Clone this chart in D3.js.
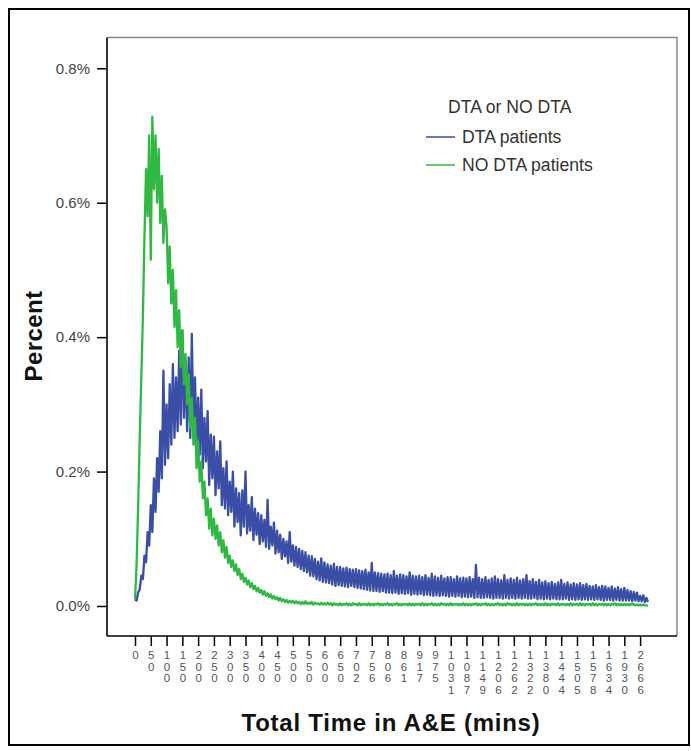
<!DOCTYPE html>
<meta charset="utf-8" />
<style>
  body { margin: 0; background: #fff; }
  text { font-family: "Liberation Sans", Arial, sans-serif; }
  .axis path.domain { display: none; }
  .axis line { stroke: #000; stroke-width: 1.5px; }
  .y-axis text { font-size: 15px; fill: #444; }
  .x-axis text { font-size: 11.5px; fill: #555; }
  .legend text { font-size: 17.6px; fill: #333; }
</style>
<svg width="691" height="751"></svg>
<script src="https://d3js.org/d3.v7.min.js"></script>
<script>
  var svg = d3.select("svg");

  // one sample every 5 categories of the x axis, ticks every 50 categories
  var step = 5;
  var tickEvery = 50;
  var lastCategory = 1625;

  var tickLabels = ["0", "50", "100", "150", "200", "250", "300", "350", "400", "450",
    "500", "550", "600", "650", "702", "756", "806", "861", "917", "975", "1031",
    "1087", "1149", "1206", "1262", "1322", "1380", "1444", "1505", "1578", "1634",
    "1930", "2666"];

  var yTicks = [0, 0.2, 0.4, 0.6, 0.8];

  var seriesNames = ["DTA patients", "NO DTA patients"];
  var seriesColors = ["#3b4ea6", "#2fb943"];

  // percent values, DTA patients
  var dta = [
    0.010, 0.008, 0.020, 0.025, 0.045, 0.040, 0.075, 0.065, 0.110, 0.090,
    0.150, 0.110, 0.190, 0.140, 0.220, 0.170, 0.260, 0.190, 0.350, 0.210,
    0.300, 0.220, 0.330, 0.240, 0.360, 0.250, 0.340, 0.260, 0.380, 0.270,
    0.410, 0.280, 0.360, 0.260, 0.370, 0.250, 0.405, 0.260, 0.340, 0.240,
    0.310, 0.225, 0.322, 0.205, 0.280, 0.215, 0.290, 0.180, 0.255, 0.190,
    0.252, 0.165, 0.230, 0.175, 0.245, 0.150, 0.205, 0.145, 0.215, 0.135,
    0.185, 0.140, 0.200, 0.118, 0.175, 0.125, 0.168, 0.105, 0.172, 0.118,
    0.200, 0.108, 0.150, 0.112, 0.162, 0.098, 0.145, 0.106, 0.138, 0.092,
    0.135, 0.096, 0.128, 0.088, 0.158, 0.085, 0.118, 0.090, 0.124, 0.078,
    0.112, 0.080, 0.106, 0.070, 0.100, 0.074, 0.096, 0.064, 0.110, 0.066,
    0.090, 0.060, 0.088, 0.058, 0.085, 0.055, 0.082, 0.052, 0.080, 0.050,
    0.075, 0.045, 0.074, 0.044, 0.070, 0.040, 0.066, 0.038, 0.071, 0.036,
    0.065, 0.035, 0.062, 0.034, 0.060, 0.032, 0.063, 0.030, 0.058, 0.031,
    0.058, 0.030, 0.056, 0.029, 0.057, 0.028, 0.055, 0.030, 0.054, 0.028,
    0.055, 0.027, 0.053, 0.026, 0.052, 0.025, 0.054, 0.024, 0.050, 0.023,
    0.064, 0.022, 0.050, 0.022, 0.049, 0.021, 0.048, 0.022, 0.047, 0.020,
    0.048, 0.020, 0.046, 0.019, 0.052, 0.020, 0.045, 0.018, 0.047, 0.019,
    0.046, 0.018, 0.044, 0.019, 0.050, 0.017, 0.045, 0.018, 0.044, 0.017,
    0.045, 0.018, 0.043, 0.016, 0.046, 0.017, 0.042, 0.016, 0.048, 0.015,
    0.044, 0.016, 0.042, 0.015, 0.045, 0.016, 0.041, 0.015, 0.043, 0.014,
    0.043, 0.015, 0.040, 0.014, 0.044, 0.015, 0.041, 0.013, 0.042, 0.014,
    0.041, 0.013, 0.043, 0.014, 0.040, 0.012, 0.061, 0.013, 0.042, 0.012,
    0.040, 0.012, 0.043, 0.013, 0.039, 0.012, 0.041, 0.011, 0.044, 0.012,
    0.040, 0.012, 0.038, 0.011, 0.046, 0.012, 0.039, 0.011, 0.041, 0.012,
    0.039, 0.011, 0.042, 0.012, 0.038, 0.011, 0.040, 0.012, 0.046, 0.011,
    0.037, 0.011, 0.040, 0.012, 0.036, 0.010, 0.039, 0.011, 0.035, 0.010,
    0.037, 0.011, 0.034, 0.010, 0.036, 0.011, 0.033, 0.010, 0.035, 0.010,
    0.039, 0.010, 0.033, 0.011, 0.035, 0.009, 0.032, 0.010, 0.034, 0.009,
    0.032, 0.010, 0.034, 0.009, 0.031, 0.010, 0.033, 0.009, 0.030, 0.010,
    0.029, 0.009, 0.031, 0.010, 0.028, 0.009, 0.030, 0.008, 0.029, 0.009,
    0.027, 0.009, 0.029, 0.008, 0.026, 0.009, 0.028, 0.008, 0.025, 0.008,
    0.027, 0.008, 0.024, 0.008, 0.022, 0.007, 0.021, 0.008, 0.020, 0.007,
    0.015, 0.007, 0.016, 0.006, 0.012, 0.006
  ];

  // percent values, NO DTA patients
  var noDta = [
    0.010, 0.060, 0.150, 0.250, 0.340, 0.430, 0.550, 0.650, 0.580, 0.700,
    0.515, 0.728, 0.620, 0.700, 0.600, 0.680, 0.570, 0.640, 0.540, 0.590,
    0.565, 0.480, 0.535, 0.450, 0.500, 0.415, 0.470, 0.385, 0.440, 0.355,
    0.410, 0.330, 0.375, 0.300, 0.345, 0.265, 0.310, 0.240, 0.280, 0.205,
    0.245, 0.185, 0.215, 0.160, 0.185, 0.135, 0.160, 0.115, 0.145, 0.105,
    0.130, 0.100, 0.120, 0.090, 0.110, 0.080, 0.098, 0.072, 0.088, 0.064,
    0.075, 0.058, 0.068, 0.052, 0.062, 0.046, 0.055, 0.040, 0.048, 0.036,
    0.042, 0.032, 0.038, 0.028, 0.034, 0.025, 0.030, 0.022, 0.027, 0.020,
    0.024, 0.017, 0.022, 0.015, 0.019, 0.013, 0.017, 0.011, 0.015, 0.010,
    0.013, 0.008, 0.012, 0.007, 0.010, 0.006, 0.009, 0.005, 0.008, 0.005,
    0.008, 0.004, 0.007, 0.004, 0.006, 0.003, 0.006, 0.003, 0.007, 0.003,
    0.005, 0.003, 0.006, 0.002, 0.005, 0.003, 0.004, 0.002, 0.005, 0.002,
    0.004, 0.002, 0.005, 0.002, 0.004, 0.001, 0.004, 0.002, 0.003, 0.001,
    0.004, 0.001, 0.003, 0.002, 0.004, 0.001, 0.003, 0.001, 0.004, 0.002,
    0.003, 0.001, 0.004, 0.001, 0.003, 0.002, 0.003, 0.001, 0.004, 0.001,
    0.003, 0.001, 0.003, 0.002, 0.004, 0.001, 0.003, 0.001, 0.003, 0.002,
    0.004, 0.001, 0.003, 0.001, 0.003, 0.002, 0.004, 0.001, 0.003, 0.001,
    0.003, 0.002, 0.003, 0.001, 0.004, 0.001, 0.003, 0.001, 0.003, 0.002,
    0.003, 0.001, 0.004, 0.001, 0.003, 0.001, 0.003, 0.002, 0.004, 0.001,
    0.003, 0.001, 0.003, 0.001, 0.004, 0.002, 0.003, 0.001, 0.003, 0.001,
    0.004, 0.001, 0.003, 0.002, 0.003, 0.001, 0.003, 0.001, 0.004, 0.001,
    0.003, 0.001, 0.003, 0.001, 0.003, 0.002, 0.004, 0.001, 0.003, 0.001,
    0.003, 0.002, 0.004, 0.001, 0.003, 0.001, 0.003, 0.001, 0.003, 0.002,
    0.004, 0.001, 0.003, 0.001, 0.003, 0.001, 0.004, 0.002, 0.003, 0.001,
    0.003, 0.001, 0.004, 0.001, 0.003, 0.002, 0.003, 0.001, 0.003, 0.001,
    0.003, 0.001, 0.003, 0.002, 0.004, 0.001, 0.003, 0.001, 0.003, 0.001,
    0.004, 0.001, 0.003, 0.001, 0.003, 0.002, 0.003, 0.001, 0.004, 0.001,
    0.003, 0.002, 0.003, 0.001, 0.003, 0.001, 0.004, 0.001, 0.003, 0.002,
    0.003, 0.001, 0.004, 0.001, 0.003, 0.001, 0.003, 0.002, 0.003, 0.001,
    0.004, 0.001, 0.003, 0.001, 0.003, 0.002, 0.003, 0.001, 0.003, 0.001,
    0.003, 0.001, 0.003, 0.002, 0.004, 0.001, 0.003, 0.001, 0.003, 0.001,
    0.003, 0.001, 0.003, 0.001, 0.003, 0.002, 0.003, 0.001, 0.002, 0.001,
    0.002, 0.001, 0.002, 0.001, 0.001, 0.000
  ];

  // plot box
  var box = { left: 107, right: 677, top: 37.5, bottom: 636 };

  var x = d3.scaleLinear()
    .domain([0, lastCategory])
    .range([box.left + 28, box.right - 29]);

  var y = d3.scaleLinear()
    .domain([0, 0.8])
    .range([606, 68.3]);

  // outer frame
  svg.append("rect")
    .attr("x", 9).attr("y", 9)
    .attr("width", 680).attr("height", 736)
    .attr("fill", "none")
    .attr("stroke", "#000")
    .attr("stroke-width", 2);

  // top and right edges of the plot box are grey
  svg.append("path")
    .attr("d", "M" + box.left + "," + box.top + "H" + box.right + "V" + box.bottom)
    .attr("fill", "none")
    .attr("stroke", "#8a8a8a")
    .attr("stroke-width", 1.5);

  // lines
  var line = d3.line()
    .x(function (d, i) { return x(i * step); })
    .y(function (d) { return y(d); });

  var series = [dta, noDta];
  svg.append("g")
    .selectAll("path")
    .data(series)
    .enter()
    .append("path")
    .attr("d", line)
    .attr("fill", "none")
    .attr("stroke", function (d, i) { return seriesColors[i]; })
    .attr("stroke-width", 2.3)
    .attr("stroke-linejoin", "round");

  // y axis
  svg.append("g")
    .attr("class", "axis y-axis")
    .attr("transform", "translate(" + box.left + ",0)")
    .call(d3.axisLeft(y)
      .tickValues(yTicks)
      .tickSize(10)
      .tickPadding(7)
      .tickFormat(function (d) { return d.toFixed(1) + "%"; }));

  svg.append("line")
    .attr("x1", box.left).attr("x2", box.left)
    .attr("y1", box.top).attr("y2", box.bottom)
    .attr("stroke", "#000").attr("stroke-width", 1.6);

  // x axis, labels written one digit per line
  var tickIdx = tickLabels.map(function (d, i) { return i * tickEvery; });
  var xAxis = svg.append("g")
    .attr("class", "axis x-axis")
    .attr("transform", "translate(0," + box.bottom + ")")
    .call(d3.axisBottom(x)
      .tickValues(tickIdx)
      .tickSize(10)
      .tickFormat(""));

  xAxis.selectAll(".tick").each(function (d, i) {
    var t = d3.select(this).select("text")
      .attr("y", 15)
      .attr("dy", null)
      .attr("text-anchor", "middle");
    tickLabels[i].split("").forEach(function (ch, j) {
      t.append("tspan")
        .attr("x", 0)
        .attr("dy", j === 0 ? "0.71em" : 11.6)
        .text(ch);
    });
  });

  svg.append("line")
    .attr("x1", box.left).attr("x2", box.right)
    .attr("y1", box.bottom).attr("y2", box.bottom)
    .attr("stroke", "#000").attr("stroke-width", 1.6);

  // axis titles
  svg.append("text")
    .attr("x", (box.left + box.right) / 2 - 1)
    .attr("y", 731)
    .attr("text-anchor", "middle")
    .attr("font-size", 24)
    .attr("letter-spacing", 0.75)
    .attr("font-weight", "bold")
    .attr("fill", "#111")
    .text("Total Time in A&E (mins)");

  svg.append("text")
    .attr("transform", "translate(42,336) rotate(-90)")
    .attr("text-anchor", "middle")
    .attr("font-size", 24)
    .attr("letter-spacing", 0.4)
    .attr("font-weight", "bold")
    .attr("fill", "#111")
    .text("Percent");

  // legend
  var legend = svg.append("g").attr("class", "legend");
  legend.append("text")
    .attr("x", 448).attr("y", 107)
    .attr("dy", "0.35em")
    .text("DTA or NO DTA");

  var item = legend.selectAll("g.item")
    .data(seriesNames)
    .enter()
    .append("g")
    .attr("class", "item")
    .attr("transform", function (d, i) { return "translate(426," + (137 + i * 28) + ")"; });

  item.append("line")
    .attr("x1", 0).attr("x2", 29)
    .attr("stroke", function (d, i) { return seriesColors[i]; })
    .attr("stroke-width", 1.5);

  item.append("text")
    .attr("x", 36)
    .attr("dy", "0.35em")
    .text(function (d) { return d; });
</script>
